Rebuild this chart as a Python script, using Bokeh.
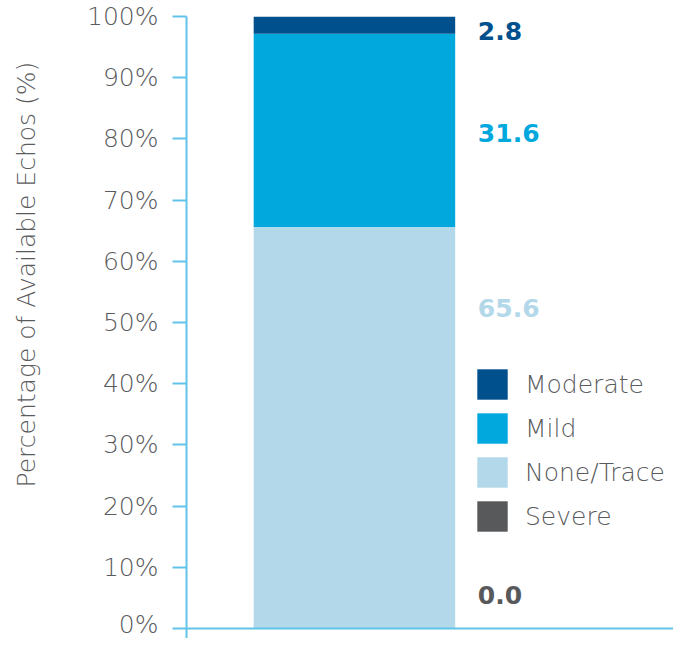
import math
from bokeh.plotting import figure
from bokeh.models import (ColumnDataSource, Range1d, FixedTicker, Span, Label,
                          Legend, LegendItem, Title)
from bokeh.embed import file_html
from bokeh.resources import INLINE

# ---- data ----
categories = ["All"]
none_trace = [65.6]
mild = [31.6]
moderate = [2.8]
severe = [0.0]
series_names = ["None/Trace", "Mild", "Moderate", "Severe"]
series_colors = ["#B3D8E9", "#00A8DE", "#00508D", "#58595B"]
value_labels = ["2.8", "31.6", "65.6", "0.0"]
value_label_colors = ["#00508D", "#00A8DE", "#B3D8E9", "#58595B"]
value_label_y = [97.6, 80.9, 52.3, 5.5]
tick_values = [0, 10, 20, 30, 40, 50, 60, 70, 80, 90, 100]
tick_labels = ["0%", "10%", "20%", "30%", "40%", "50%", "60%", "70%", "80%", "90%", "100%"]
y_title = "Percentage of Available Echos (%)"

AXIS = "#62C3E8"
TEXT = "#5A5B5D"
FONT = "'DejaVu Sans Light', 'DejaVu Sans'"
BOLD = "DejaVu Sans"

src = ColumnDataSource(dict(x=[1.0], none=none_trace, mild=mild,
                            moderate=moderate, severe=severe))

p = figure(width=673, height=638, output_backend="svg", toolbar_location=None,
           x_range=Range1d(0, 2.9), y_range=Range1d(-1.63, 100),
           x_axis_location=None, y_axis_location="left",
           min_border_left=186, min_border_right=0, min_border_top=16,
           min_border_bottom=0)
p.outline_line_color = None
p.xgrid.visible = False
p.ygrid.visible = False

rs = p.vbar_stack(["none", "mild", "moderate", "severe"], x="x", width=1.2,
                  color=series_colors, line_color=None, source=src)

ax = p.yaxis[0]
ax.ticker = FixedTicker(ticks=tick_values)
ax.major_label_overrides = {v: l for v, l in zip(tick_values, tick_labels)}
ax.axis_line_color = AXIS
ax.axis_line_width = 2
ax.major_tick_line_color = AXIS
ax.major_tick_line_width = 2
ax.major_tick_out = 14
ax.major_tick_in = 0
ax.minor_tick_line_color = None
ax.major_label_standoff = 14
ax.major_label_text_font = FONT
ax.major_label_text_font_size = "25px"
ax.major_label_text_color = TEXT

p.add_layout(Span(location=0, dimension="width", line_color=AXIS, line_width=2))

for t, c, y in zip(value_labels, value_label_colors, value_label_y):
    p.add_layout(Label(x=1.735, y=y, text=t, text_color=c, text_font=BOLD,
                       text_font_style="bold", text_font_size="25px",
                       text_align="left", text_baseline="middle"))

# empty spacer panel between the axis and its title
p.add_layout(Title(text=" ", standoff=32, text_font_size="1px"), "left")
p.add_layout(Title(text=y_title, align="left", offset=151, standoff=14,
                   vertical_align="top",
                   text_font=FONT, text_font_size="25px", text_color=TEXT,
                   text_font_style="normal"), "left")

order = [2, 1, 0, 3]
legend = Legend(items=[LegendItem(label=series_names[i], renderers=[rs[i]]) for i in order],
                location=(287, 103), orientation="vertical",
                glyph_width=38, glyph_height=38, label_height=38, spacing=6,
                label_standoff=14, padding=0, margin=0,
                border_line_alpha=0, background_fill_alpha=0,
                label_text_font=FONT, label_text_font_size="25px",
                label_text_color=TEXT)
p.add_layout(legend)

open("out.html", "w").write(file_html(p, INLINE))
